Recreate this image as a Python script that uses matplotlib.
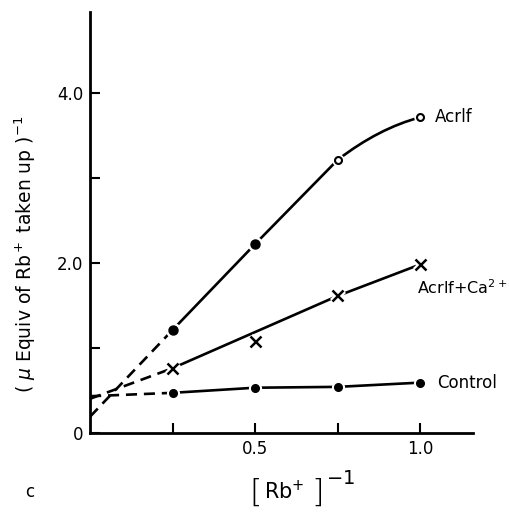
import matplotlib
matplotlib.use("Agg")
import matplotlib.pyplot as plt
import matplotlib.patheffects as pe
from matplotlib.path import Path
from matplotlib.patches import PathPatch
import numpy as np

plt.rcParams['font.family'] = ['DejaVu Sans']
plt.rcParams['mathtext.fontset'] = 'dejavusans'

# data
rb_inv = [0.25, 0.5, 0.75, 1.0]
acrif = [1.21, 2.22, 3.21, 3.71]
acrif_ca = [0.76, 1.07, 1.61, 1.98]
control = [0.47, 0.53, 0.54, 0.59]
# where the dashed extrapolations meet the y axis
intercepts = {'acrif': 0.19, 'acrif_ca': 0.40, 'control': 0.43}

y_ticks = [0, 1, 2, 3, 4]
y_labels = ['0', '', '2.0', '', '4.0']
x_ticks = [0.25, 0.5, 0.75, 1.0]
x_labels = ['', '0.5', '', '1.0']

LW = 1.9
halo = [pe.Stroke(linewidth=5, foreground='white'), pe.Normal()]


def acrif_path(xs, ys):
    # straight through the first points, bending over for the last one
    pts = np.column_stack([xs, ys])
    verts = [pts[0]] + [p for p in pts[1:-1]]
    codes = [Path.MOVETO] + [Path.LINETO] * (len(pts) - 2)
    p1, p2, p3 = pts[-3], pts[-2], pts[-1]
    s_prev = (p2[1] - p1[1]) / (p2[0] - p1[0])
    s_chord = (p3[1] - p2[1]) / (p3[0] - p2[0])
    s0 = (s_prev + s_chord) / 2
    half = (p3[0] - p2[0]) / 2
    ctrl = [p2[0] + half, p2[1] + half * s0]
    verts += [ctrl, p3]
    codes += [Path.CURVE3, Path.CURVE3]
    return Path(verts, codes)


fig = plt.figure(figsize=(5.09, 5.14), dpi=100)
ax = fig.add_axes([0.177, 0.158, 0.7525, 0.819])
ax.set_xlim(0, 1.16)
ax.set_ylim(0, 4.95)

# dashed extrapolations back to the axis
dash = (0, (4.2, 2.6))
ax.plot([0, rb_inv[0]], [intercepts['acrif'], acrif[0]], color='black', lw=LW, ls=dash)
ax.plot([0, rb_inv[0]], [intercepts['acrif_ca'], acrif_ca[0]], color='black', lw=LW, ls=dash)
ax.plot([0, rb_inv[0]], [intercepts['control'], control[0]], color='black', lw=LW, ls=dash)

# Acrif
ax.add_patch(PathPatch(acrif_path(rb_inv, acrif), fill=False, lw=LW, edgecolor='black',
                       capstyle='round', joinstyle='round'))
# Acrif + Ca: straight line (0.5 point lies off the line)
fit_idx = [0, 2, 3]
ax.plot([rb_inv[i] for i in fit_idx], [acrif_ca[i] for i in fit_idx], color='black', lw=LW)
# control
ax.plot(rb_inv, control, color='black', lw=LW)

# markers with a white halo so the lines stop short of them
ax.plot(rb_inv[:2], acrif[:2], ls='none', marker='o', ms=11, mfc='white', mec='none', zorder=4)
ax.plot(rb_inv[:2], acrif[:2], ls='none', marker='o', ms=6.5, mfc='black', mec='black', zorder=5)
ax.plot(rb_inv[2:], acrif[2:], ls='none', marker='o', ms=9, mfc='white', mec='none', zorder=4)
ax.plot(rb_inv[2:], acrif[2:], ls='none', marker='o', ms=5, mfc='white', mec='black',
        mew=1.5, zorder=5)
ax.plot(rb_inv, acrif_ca, ls='none', marker='x', ms=8, mec='black', mew=1.8, zorder=5,
        path_effects=halo)
ax.plot(rb_inv, control, ls='none', marker='o', ms=9.5, mfc='white', mec='none', zorder=4)
ax.plot(rb_inv, control, ls='none', marker='o', ms=5.5, mfc='black', mec='black', zorder=5)

# curve labels
ax.text(1.045, acrif[3], 'Acrlf', fontsize=12, va='center', ha='left')
ax.text(0.99, 1.71, 'Acrlf+Ca$^{2+}$', fontsize=11.5, va='center', ha='left')
ax.text(1.05, control[3], 'Control', fontsize=12, va='center', ha='left')

# axes styling
for side in ['top', 'right']:
    ax.spines[side].set_visible(False)
for side in ['left', 'bottom']:
    ax.spines[side].set_linewidth(2.0)
ax.set_yticks(y_ticks)
ax.set_yticklabels(y_labels, fontsize=12)
ax.set_xticks(x_ticks)
ax.set_xticklabels(x_labels, fontsize=12)
ax.tick_params(axis='both', direction='in', length=7, width=1.5)
ax.tick_params(axis='y', pad=5)
ax.tick_params(axis='x', pad=5)

fig.text(0.049, 0.505, r'( $\mu$ Equiv of Rb$^+$ taken up )$^{-1}$', rotation=90,
         fontsize=13.5, ha='center', va='center')
# x label built from pieces so the brackets can be tall
fig.text(0.489, 0.042, '[', fontsize=23, ha='left', va='center', fontweight='light')
fig.text(0.518, 0.044, r'Rb$^{+}$', fontsize=15, ha='left', va='center')
fig.text(0.612, 0.042, ']', fontsize=23, ha='left', va='center', fontweight='light')
fig.text(0.640, 0.070, r'$-$1', fontsize=14, ha='left', va='center')
fig.text(0.058, 0.043, 'c', fontsize=12, ha='center', va='center')

fig.savefig('out.png', dpi=100, facecolor='white')
